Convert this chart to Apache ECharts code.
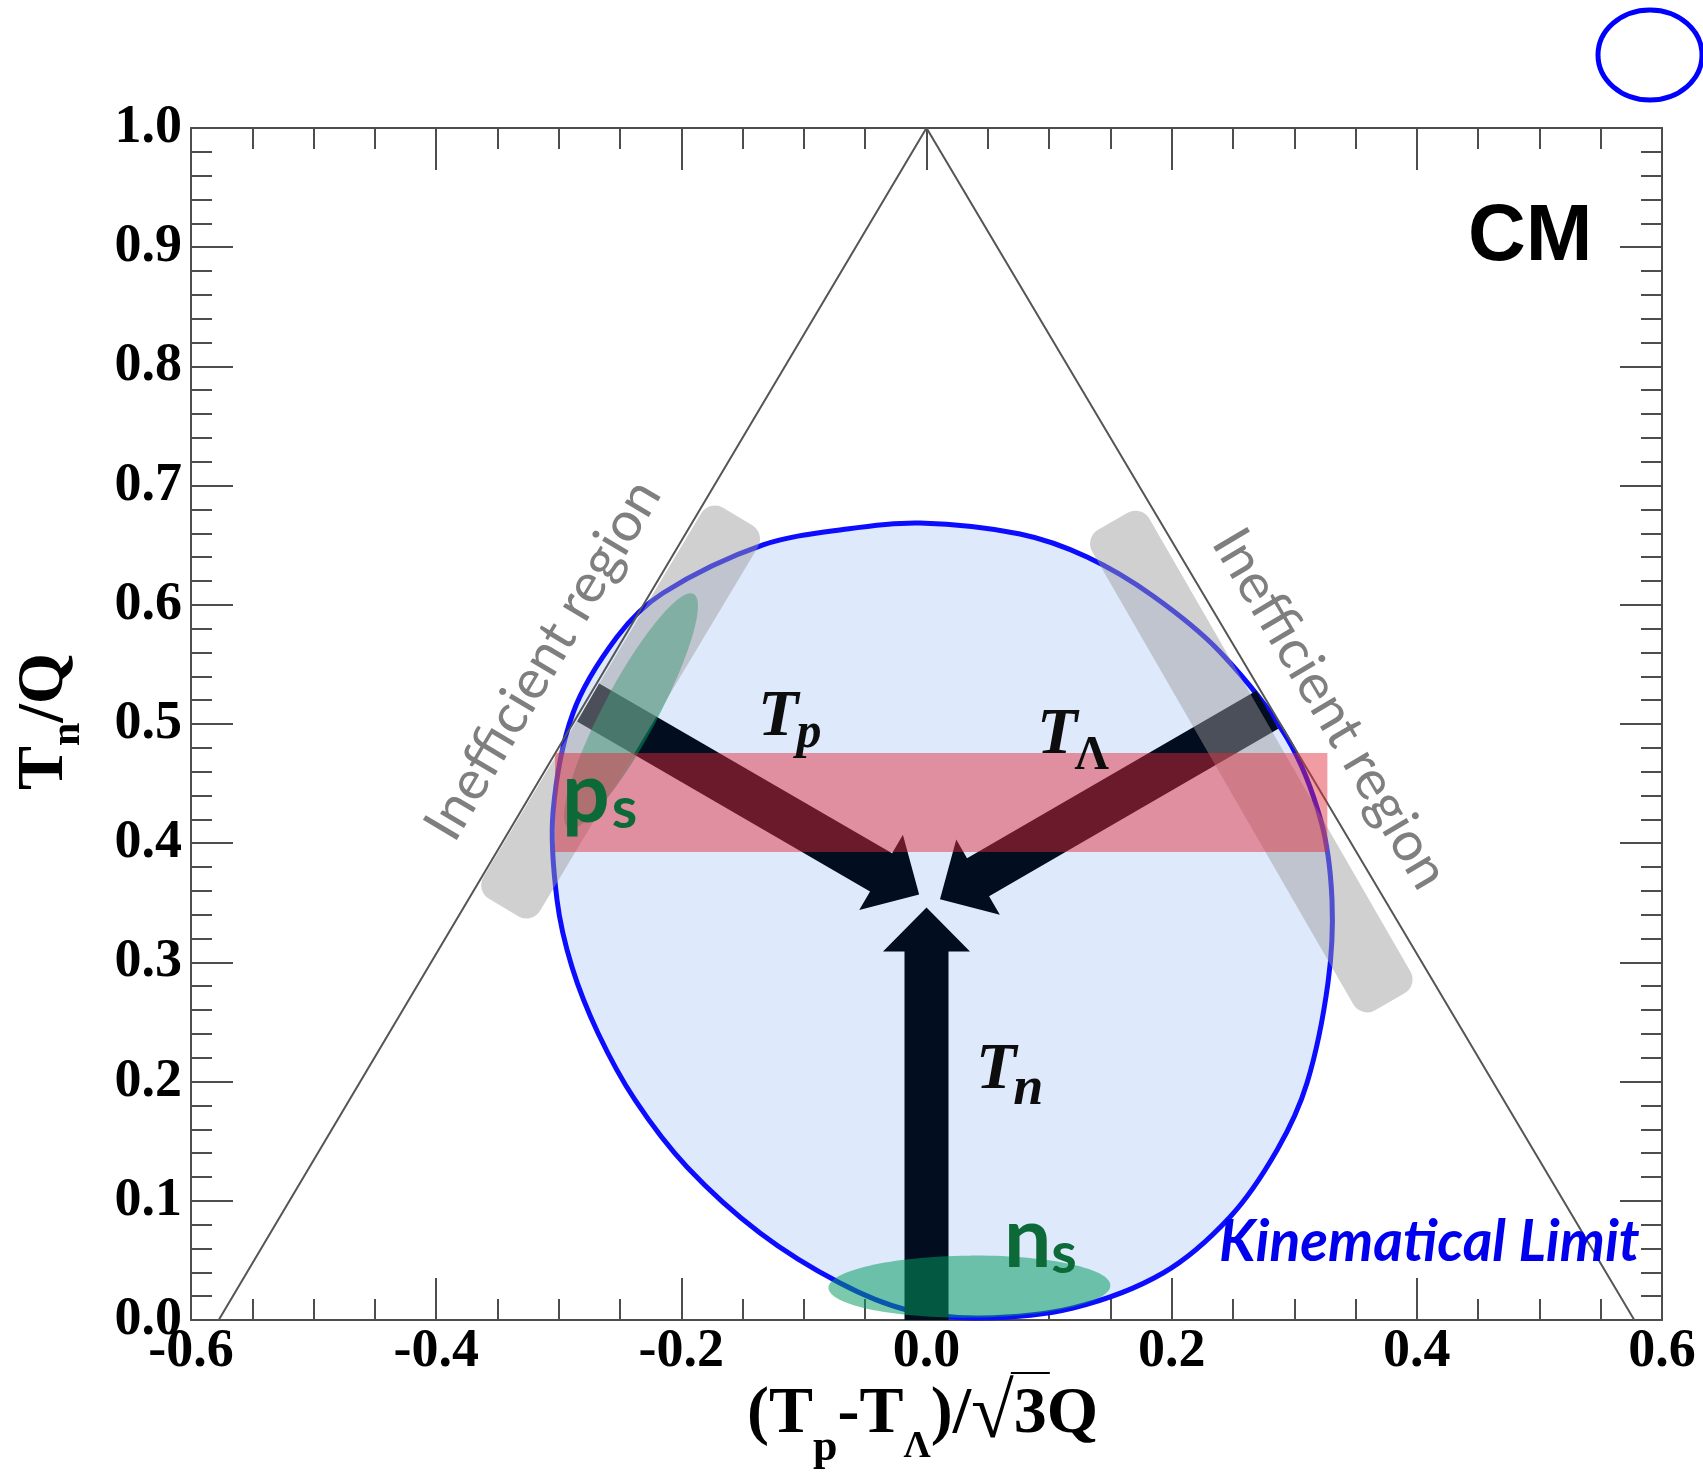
<!DOCTYPE html>
<html><head><meta charset="utf-8">
<script src="https://cdn.jsdelivr.net/npm/echarts@6/dist/echarts.min.js"></script>
<style>html,body{margin:0;padding:0;background:#fff}#main{width:1703px;height:1478px}</style>
</head><body><div id="main"></div>
<script>
// ================= DATA =================
const xTickLabels = ['-0.6','-0.4','-0.2','0.0','0.2','0.4','0.6'];
const yTickLabels = ['0.0','0.1','0.2','0.3','0.4','0.5','0.6','0.7','0.8','0.9','1.0'];

// Dalitz triangle
const triangleX = [-0.5774, 0.0, 0.5774];
const triangleY = [0.0, 1.0, 0.0];

// Kinematical limit boundary (clockwise from top)
const kinX = [-0.0053, 0.0763, 0.1310, 0.1848, 0.2395, 0.2941, 0.3218, 0.3308, 0.3275, 0.3104, 0.2860, 0.2476, 0.1930, 0.1195, 0.0437, -0.0159, -0.0706, -0.1358, -0.1954, -0.2378, -0.2680, -0.2892, -0.3014, -0.3047, -0.2884, -0.2525, -0.2149, -0.1334, -0.0648];
const kinY = [0.6686, 0.6594, 0.6401, 0.6074, 0.5604, 0.4883, 0.4186, 0.3523, 0.2827, 0.1988, 0.1426, 0.0864, 0.0394, 0.0101, 0.0017, 0.0084, 0.0310, 0.0730, 0.1284, 0.1846, 0.2408, 0.2961, 0.3523, 0.4253, 0.5092, 0.5730, 0.6099, 0.6502, 0.6636];

// Arrows (start -> tip)
const arrowNames  = ['T_p', 'T_Lambda', 'T_n'];
const arrowStartX = [-0.276, 0.278, 0.000];
const arrowStartY = [0.518, 0.512, 0.000];
const arrowTipX   = [-0.006, 0.011, 0.000];
const arrowTipY   = [0.357, 0.353, 0.346];

// Horizontal band
const bandX = [-0.303, 0.327];
const bandY = [0.3926, 0.4757];

// Inefficient regions (axis end points)
const ineffStartX = [-0.345, 0.152];
const ineffStartY = [0.346, 0.670];
const ineffEndX   = [-0.154, 0.378];
const ineffEndY   = [0.674, 0.267];

// Green spots (center, end of major axis)
const spotNames = ['p_s', 'n_s'];
const spotCX = [-0.241, 0.035];
const spotCY = [0.511, 0.028];
const spotAX = [-0.190, 0.150];
const spotAY = [0.609, 0.029];

// Text annotations (baseline-left anchor in data units)
const labelMain = ['T', 'T', 'T', 'p', 'n', 'Kinematical Limit', 'CM'];
const labelSub  = ['p', 'Λ', 'n', 's', 's', '', ''];
const labelX = [-0.1374, 0.0902, 0.0404, -0.2973, 0.0632, 0.2386, 0.4418];
const labelY = [0.4866, 0.4715, 0.1904, 0.4136, 0.0403, 0.0461, 0.8842];

const ineffText = 'Inefficient region';
const ineffLabelX = [-0.3128, 0.3292];
const ineffLabelY = [0.5537, 0.5126];

// ================= STYLES =================
const AX = '#4d4d4d';
const FILL_KIN = '#dfe9fc';
const STROKE_KIN = '#0c0cff';
const ARROW_COLOR = '#020d1f';
const ARROW = {shaft: 44, head: 87, headLen: 44};
const INEFF = {width: 66, radius: 16, fill: 'rgba(155,155,155,0.47)'};
const SPOT = {minor: [27, 31], fill: 'rgba(4,154,96,0.53)'};
const BAND_FILL = 'rgba(226,42,57,0.47)';
const K = {'Liberation Serif': 0.3375, 'Liberation Sans': 0.3465, 'Lato': 0.387, 'Open Sans': 0.388};
const serifT = {family:'Liberation Serif', size:66, weight:'bold', style:'italic', color:'#0d0d0d'};
const greenMain = {family:'Lato', size:84, weight:'bold', style:'normal', color:'#0b6a38'};
const greenSub = {family:'Lato', size:58, weight:'bold', style:'normal', color:'#0b6a38'};
const labelStyles = [
  {main: serifT, sub: {family:'Liberation Serif', size:50, weight:'bold', style:'italic', color:'#0d0d0d'}, subDy: 11, subDx: -2},
  {main: serifT, sub: {family:'Liberation Serif', size:48, weight:'bold', style:'normal', color:'#0d0d0d'}, subDy: 15, subDx: -3},
  {main: serifT, sub: {family:'Liberation Serif', size:54, weight:'bold', style:'italic', color:'#0d0d0d'}, subDy: 15, subDx: -3},
  {main: greenMain, sub: greenSub, subDy: 5, subDx: 2},
  {main: greenMain, sub: greenSub, subDy: 5, subDx: 0},
  {main: {family:'Lato', size:57, weight:'bold', style:'italic', color:'#0000ee'}},
  {main: {family:'Liberation Sans', size:80, weight:'bold', style:'normal', color:'#000000'}}
];
const ineffStyle = {family:'Lato', size:55, weight:'normal', style:'normal', color:'#7f7f7f'};

const mctx = document.createElement('canvas').getContext('2d');
function fontStr(f){ return (f.style||'normal')+' '+(f.weight||'normal')+' '+f.size+'px "'+f.family+'"'; }
function textW(t, f){ mctx.font = fontStr(f); return mctx.measureText(t).width; }
function txt(text, x, yBase, f, align){
  return {type:'text', x: x, y: yBase - K[f.family]*f.size, silent:true,
    style:{text:text, fontFamily:f.family, fontSize:f.size, fontWeight:f.weight||'normal', fontStyle:f.style||'normal',
      fill:f.color, align: align||'left', verticalAlign:'middle'}};
}
function lineOfParts(parts, x0, yBase){
  let x = x0; const out = [];
  parts.forEach(p => { out.push(txt(p.t, x + (p.dx||0), yBase + (p.dy||0), p.f)); x += textW(p.t, p.f) + (p.dx||0); });
  return {els: out, end: x};
}

// ================= CHART =================
const chart = echarts.init(document.getElementById('main'), null, {renderer:'canvas'});

function axisBase(showLabel, isX){
  return {
    type:'value',
    min: isX ? -0.6 : 0, max: isX ? 0.6 : 1, interval: isX ? 0.2 : 0.1,
    axisLine:{show:true, onZero:false, lineStyle:{color:AX, width:2}},
    axisTick:{show:true, inside:true, length:42, lineStyle:{color:AX, width:2}},
    minorTick:{show:true, splitNumber: isX ? 4 : 5, length:21, lineStyle:{color:AX, width:2}},
    splitLine:{show:false}, minorSplitLine:{show:false},
    axisLabel:{show:showLabel, fontFamily:'Liberation Serif', fontWeight:'bold', fontSize:54, color:'#000',
      margin: isX ? 5 : 9,
      formatter: isX ? (v => xTickLabels[Math.round((v + 0.6) / 0.2)]) : (v => yTickLabels[Math.round(v / 0.1)])}
  };
}
const xMain = Object.assign(axisBase(true, true), {position:'bottom'});
const xTop = Object.assign(axisBase(false, true), {position:'top'});
const yMain = Object.assign(axisBase(true, false), {position:'left'});
const yRight = Object.assign(axisBase(false, false), {position:'right'});

// Axis titles (graphic, pixel layout)
const mainF = {family:'Liberation Serif', size:66, weight:'bold', style:'normal', color:'#000'};
const subF = {family:'Liberation Serif', size:44, weight:'bold', style:'normal', color:'#000'};
const subL = {family:'Liberation Serif', size:38, weight:'bold', style:'normal', color:'#000'};
const radF = {family:'Liberation Serif', size:78, weight:'normal', style:'normal', color:'#000'};
const xt1 = lineOfParts([{t:'(T', f:mainF}, {t:'p', f:subF, dy:26}, {t:'-T', f:mainF}, {t:'Λ', f:subL, dy:23}, {t:')/', f:mainF}, {t:'√', f:radF, dy:6}], 747, 1437);
const threeStart = xt1.end;
const xt2 = lineOfParts([{t:'3', f:mainF}, {t:'Q', f:mainF}], threeStart, 1437);
const threeEnd = threeStart + textW('3', mainF);
const yt = lineOfParts([{t:'T', f:mainF}, {t:'n', f:{family:'Liberation Serif', size:42, weight:'bold', style:'normal', color:'#000'}, dy:15}, {t:'/Q', f:mainF}], 0, 0);

const graphic = [
  {type:'group', children: xt1.els.concat(xt2.els).concat([
    {type:'line', shape:{x1:threeStart-3, y1:1373, x2:threeEnd+3, y2:1373}, style:{stroke:'#000', lineWidth:2}}
  ])},
  {type:'group', x:67, y:790, rotation: Math.PI/2, children: yt.els},
  {type:'ellipse', shape:{cx:1650, cy:55, rx:52, ry:45}, style:{fill:'none', stroke:'#0000ff', lineWidth:5}}
];

const series = [
  // kinematical region
  {type:'custom', z:3, silent:true, data:[[kinX[0], kinY[0]]],
   renderItem:(params, api) => ({type:'polygon',
     shape:{points: kinX.map((x,i) => api.coord([x, kinY[i]])), smooth:0.33},
     style:{fill:FILL_KIN, stroke:STROKE_KIN, lineWidth:5}})},
  // triangle
  {type:'line', z:4, silent:true, symbol:'none', data: triangleX.map((x,i) => [x, triangleY[i]]),
   lineStyle:{color:'#555', width:2}},
  // arrows
  {type:'custom', z:5, silent:true, encode:{x:[0,2], y:[1,3]},
   data: arrowNames.map((n,i) => [arrowStartX[i], arrowStartY[i], arrowTipX[i], arrowTipY[i]]),
   renderItem:(params, api) => {
     const p0 = api.coord([api.value(0), api.value(1)]);
     const p1 = api.coord([api.value(2), api.value(3)]);
     const dx = p1[0]-p0[0], dy = p1[1]-p0[1], L = Math.hypot(dx,dy);
     const ux = dx/L, uy = dy/L, nx = -uy, ny = ux;
     const sw = ARROW.shaft/2, hw = ARROW.head/2, hl = ARROW.headLen;
     const bx = p1[0]-ux*hl, by = p1[1]-uy*hl;
     return {type:'polygon', shape:{points:[
       [p0[0]+nx*sw, p0[1]+ny*sw], [bx+nx*sw, by+ny*sw], [bx+nx*hw, by+ny*hw], [p1[0], p1[1]],
       [bx-nx*hw, by-ny*hw], [bx-nx*sw, by-ny*sw], [p0[0]-nx*sw, p0[1]-ny*sw]]},
       style:{fill:ARROW_COLOR}};
   }},
  // green spots
  {type:'custom', z:6, silent:true, encode:{x:[0,2], y:[1,3]},
   data: spotNames.map((n,i) => [spotCX[i], spotCY[i], spotAX[i], spotAY[i]]),
   renderItem:(params, api) => {
     const c = api.coord([api.value(0), api.value(1)]);
     const a = api.coord([api.value(2), api.value(3)]);
     const rx = Math.hypot(a[0]-c[0], a[1]-c[1]);
     const ang = Math.atan2(a[1]-c[1], a[0]-c[0]);
     return {type:'ellipse', x:c[0], y:c[1], rotation:-ang,
       shape:{cx:0, cy:0, rx:rx, ry:SPOT.minor[params.dataIndex]}, style:{fill:SPOT.fill}};
   }},
  // inefficient regions
  {type:'custom', z:7, silent:true, encode:{x:[0,2], y:[1,3]},
   data: ineffStartX.map((x,i) => [x, ineffStartY[i], ineffEndX[i], ineffEndY[i]]),
   renderItem:(params, api) => {
     const p0 = api.coord([api.value(0), api.value(1)]);
     const p1 = api.coord([api.value(2), api.value(3)]);
     const L = Math.hypot(p1[0]-p0[0], p1[1]-p0[1]);
     const ang = Math.atan2(p1[1]-p0[1], p1[0]-p0[0]);
     return {type:'rect', x:(p0[0]+p1[0])/2, y:(p0[1]+p1[1])/2, rotation:-ang,
       shape:{x:-L/2, y:-INEFF.width/2, width:L, height:INEFF.width, r:INEFF.radius}, style:{fill:INEFF.fill}};
   }},
  // band
  {type:'custom', z:8, silent:true, encode:{x:[0,2], y:[1,3]},
   data: [[bandX[0], bandY[0], bandX[1], bandY[1]]],
   renderItem:(params, api) => {
     const a = api.coord([api.value(0), api.value(3)]);
     const b = api.coord([api.value(2), api.value(1)]);
     return {type:'rect', shape:{x:a[0], y:a[1], width:b[0]-a[0], height:b[1]-a[1]}, style:{fill:BAND_FILL}};
   }},
  // text annotations
  {type:'custom', z:10, silent:true, encode:{x:0, y:1},
   data: labelMain.map((t,i) => [labelX[i], labelY[i]]),
   renderItem:(params, api) => {
     const i = params.dataIndex, st = labelStyles[i];
     const p = api.coord([api.value(0), api.value(1)]);
     const ch = [txt(labelMain[i], p[0], p[1], st.main)];
     if (labelSub[i]) ch.push(txt(labelSub[i], p[0] + textW(labelMain[i], st.main) + (st.subDx||0), p[1] + st.subDy, st.sub));
     return {type:'group', children: ch};
   }},
  // inefficient region labels
  {type:'custom', z:10, silent:true, encode:{x:0, y:1},
   data: ineffLabelX.map((x,i) => [x, ineffLabelY[i]]),
   renderItem:(params, api) => {
     const i = params.dataIndex;
     const p = api.coord([api.value(0), api.value(1)]);
     const apex = api.coord([triangleX[1], triangleY[1]]);
     const foot = api.coord([triangleX[i === 0 ? 0 : 2], triangleY[i === 0 ? 0 : 2]]);
     let ang = Math.atan2(apex[1]-foot[1], apex[0]-foot[0]);
     if (i === 1) ang = ang + Math.PI;
     return {type:'text', x:p[0], y:p[1], rotation:-ang, silent:true,
       style:{text:ineffText, fontFamily:ineffStyle.family, fontSize:ineffStyle.size, fontWeight:ineffStyle.weight,
         fill:ineffStyle.color, align:'center', verticalAlign:'middle'}};
   }}
];

chart.setOption({
  animation:false,
  backgroundColor:'#ffffff',
  grid:{left:191, right:41, top:128, bottom:158, containLabel:false, outerBoundsMode:'none'},
  xAxis:[xMain, xTop],
  yAxis:[yMain, yRight],
  graphic: graphic,
  series: series
});
</script></body></html>
